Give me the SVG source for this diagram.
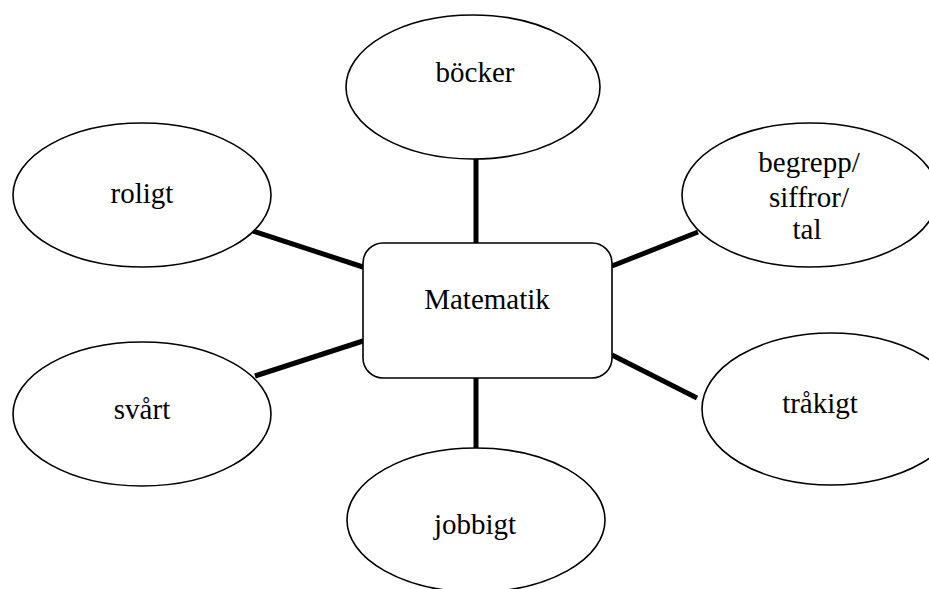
<svg xmlns="http://www.w3.org/2000/svg" width="929" height="589" viewBox="0 0 929 589">
<style>
.n{fill:#fff;stroke:#000;stroke-width:1.6}
.t{font-size:29px;fill:#000;text-anchor:middle}
.c line{stroke:#000;stroke-width:5}
</style>
<rect width="929" height="589" fill="#fff"/>
<g class="c" id="connectors">
<line x1="476" y1="159" x2="476" y2="243"/>
<line x1="476" y1="378" x2="476" y2="448"/>
<line x1="253" y1="231" x2="363" y2="267"/>
<line x1="255" y1="376" x2="363" y2="341"/>
<line x1="612" y1="266" x2="698" y2="232"/>
<line x1="612" y1="355" x2="697" y2="398"/>
</g>
<g font-family="Times New Roman, Liberation Serif, serif">
<g id="matematik">
<rect class="n" x="363" y="243" width="249" height="135" rx="20"/>
<text class="t" font-family="Times New Roman, Liberation Serif, serif" x="487" y="309">Matematik</text>
</g>
<g id="bocker">
<ellipse class="n" cx="473" cy="87" rx="127" ry="72"/>
<text class="t" font-family="Times New Roman, Liberation Serif, serif" x="475" y="82">böcker</text>
</g>
<g id="roligt">
<ellipse class="n" cx="142" cy="195" rx="129" ry="72"/>
<text class="t" font-family="Times New Roman, Liberation Serif, serif" x="142" y="203">roligt</text>
</g>
<g id="svart">
<ellipse class="n" cx="142" cy="414" rx="129" ry="72"/>
<text class="t" font-family="Times New Roman, Liberation Serif, serif" x="142" y="419">svårt</text>
</g>
<g id="jobbigt">
<ellipse class="n" cx="476" cy="520" rx="129" ry="72"/>
<text class="t" font-family="Times New Roman, Liberation Serif, serif" x="475" y="534">jobbigt</text>
</g>
<g id="begrepp">
<ellipse class="n" cx="810" cy="195" rx="128" ry="72"/>
<text class="t" font-family="Times New Roman, Liberation Serif, serif" x="809" y="172">begrepp/</text>
<text class="t" font-family="Times New Roman, Liberation Serif, serif" x="809" y="207">siffror/</text>
<text class="t" font-family="Times New Roman, Liberation Serif, serif" x="807" y="239">tal</text>
</g>
<g id="trakigt">
<ellipse class="n" cx="831" cy="409" rx="129" ry="76"/>
<text class="t" font-family="Times New Roman, Liberation Serif, serif" x="820" y="413">tråkigt</text>
</g>
</g>
</svg>
